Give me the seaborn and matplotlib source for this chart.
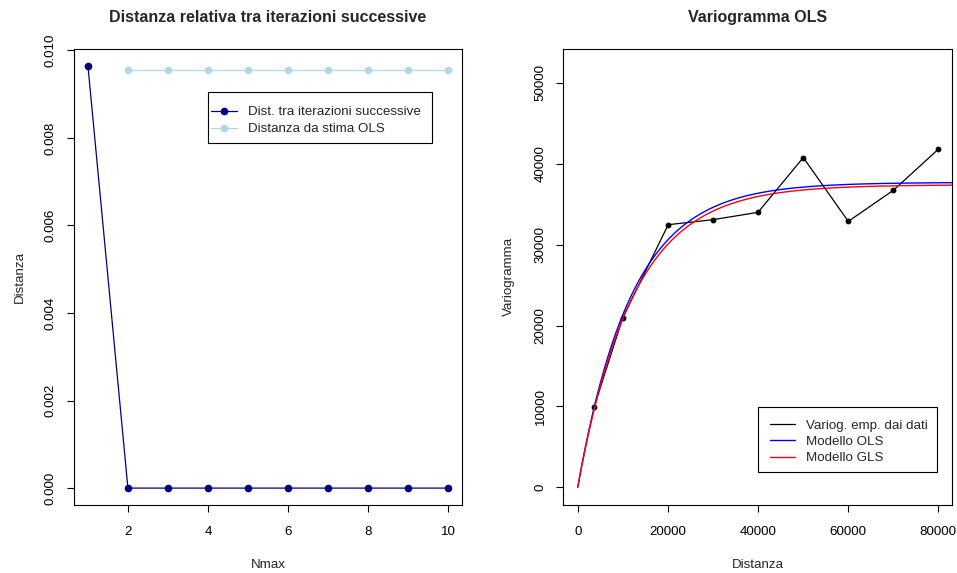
import numpy as np
import pandas as pd
import matplotlib
matplotlib.use("Agg")
import matplotlib.pyplot as plt
from matplotlib.lines import Line2D
from matplotlib.patches import Rectangle
import seaborn as sns

# --- convergence of the iterative GLS procedure ---
nmax = [1, 2, 3, 4, 5, 6, 7, 8, 9, 10]
dist_successive = [0.00965, 0.0, 0.0, 0.0, 0.0, 0.0, 0.0, 0.0, 0.0, 0.0]
nmax_ols = [2, 3, 4, 5, 6, 7, 8, 9, 10]
dist_ols = [0.00954, 0.00954, 0.00954, 0.00954, 0.00954,
            0.00954, 0.00954, 0.00954, 0.00954]

# --- empirical variogram of the residuals ---
lag_dist = [3620, 10000, 20100, 30050, 40050, 50100, 60100, 70100, 80100]
gamma_emp = [9900, 20960, 32470, 33090, 34000, 40770, 32880, 36720, 41800]

# fitted exponential models: (sill, range)
ols_model = (37700, 12000)
gls_model = (37400, 12300)

sns.set_style("ticks")
plt.rcParams["font.family"] = ["Liberation Sans", "DejaVu Sans"]
plt.rcParams["axes.linewidth"] = 0.8

FS = 9.6
TITLE_FS = 11.5
W, H = 957, 573


def exp_variogram(h, model):
    sill, rng = model
    return sill * (1.0 - np.exp(-np.asarray(h) / rng))


def px_box(x0, y0, x1, y1):
    """Figure-fraction rectangle from pixel corners (top-left origin)."""
    return [x0 / W, 1 - y1 / H, (x1 - x0) / W, (y1 - y0) / H]


fig = plt.figure(figsize=(W / 100, H / 100), dpi=100)
ax1 = fig.add_axes(px_box(73.5, 48.5, 462.4, 505))
ax2 = fig.add_axes(px_box(563.3, 48.5, 952.3, 505))

# ---------------- left panel ----------------
df_it = pd.DataFrame({"Nmax": nmax, "Distanza": dist_successive})
df_ols = pd.DataFrame({"Nmax": nmax_ols, "Distanza": dist_ols})

sns.lineplot(data=df_it, x="Nmax", y="Distanza", ax=ax1, color="#000080",
             marker="o", markersize=5.5, markeredgewidth=0, linewidth=0.9,
             estimator=None, sort=False, label="Dist. tra iterazioni successive")
sns.lineplot(data=df_ols, x="Nmax", y="Distanza", ax=ax1, color="#ADD8E6",
             marker="o", markersize=5.5, markeredgewidth=0, linewidth=0.9,
             estimator=None, sort=False, label="Distanza da stima OLS")

ax1.set_xlim(0.64, 10.36)
ax1.set_ylim(-0.000386, 0.01004)
ax1.set_xticks([2, 4, 6, 8, 10])
ax1.set_yticks([0, 0.002, 0.004, 0.006, 0.008, 0.010])
ax1.set_yticklabels(["0.000", "0.002", "0.004", "0.006", "0.008", "0.010"],
                    rotation=90, va="center")
ax1.set_title("Distanza relativa tra iterazioni successive", fontsize=TITLE_FS,
              fontweight="bold", pad=19)
ax1.set_xlabel("Nmax", fontsize=FS, labelpad=15.5)
ax1.set_ylabel("Distanza", fontsize=FS, labelpad=14)

ax1.legend(loc="upper left", bbox_to_anchor=(200.5 / W, 1 - 95.3 / H),
           bbox_transform=fig.transFigure, fontsize=FS, frameon=False,
           borderaxespad=0, handlelength=1.95, handletextpad=0.8,
           labelspacing=0.35, borderpad=0.8)
# legend box outline
fig.patches.append(Rectangle(px_box(207.7, 92.3, 432.3, 143.3)[:2],
                             *px_box(207.7, 92.3, 432.3, 143.3)[2:],
                             transform=fig.transFigure, fill=False,
                             edgecolor="black", linewidth=0.8, zorder=5))

# ---------------- right panel ----------------
h = np.linspace(0, 84000, 500)
df_emp = pd.DataFrame({"Distanza": lag_dist, "Variogramma": gamma_emp})
df_mod = pd.DataFrame({"Distanza": np.concatenate([h, h]),
                       "Variogramma": np.concatenate([exp_variogram(h, ols_model),
                                                      exp_variogram(h, gls_model)]),
                       "Modello": ["Modello OLS"] * len(h) + ["Modello GLS"] * len(h)})

model_colors = {"Modello OLS": "#0000FF", "Modello GLS": "#FF0000"}
sns.lineplot(data=df_emp, x="Distanza", y="Variogramma", ax=ax2, color="black",
             marker="o", markersize=4.2, markeredgewidth=0, linewidth=0.9,
             estimator=None, sort=False, legend=False)
sns.lineplot(data=df_mod, x="Distanza", y="Variogramma", hue="Modello",
             palette=model_colors, ax=ax2, linewidth=1.0,
             estimator=None, sort=False, legend=False)

ax2.set_xlim(-3200, 83200)
ax2.set_ylim(-2180, 54250)
ax2.set_xticks([0, 20000, 40000, 60000, 80000])
ax2.set_yticks([0, 10000, 20000, 30000, 40000, 50000])
ax2.set_yticklabels(["0", "10000", "20000", "30000", "40000", "50000"],
                    rotation=90, va="center")
ax2.set_title("Variogramma OLS", fontsize=TITLE_FS, fontweight="bold", pad=19)
ax2.set_xlabel("Distanza", fontsize=FS, labelpad=15.5)
ax2.set_ylabel("Variogramma", fontsize=FS, labelpad=14)

leg_handles = [Line2D([], [], color="black", linewidth=0.9),
               Line2D([], [], color=model_colors["Modello OLS"], linewidth=1.0),
               Line2D([], [], color=model_colors["Modello GLS"], linewidth=1.0)]
leg_labels = ["Variog. emp. dai dati", "Modello OLS", "Modello GLS"]
ax2.legend(leg_handles, leg_labels, loc="upper left",
           bbox_to_anchor=(759.5 / W, 1 - 409.3 / H),
           bbox_transform=fig.transFigure, fontsize=FS, frameon=False,
           borderaxespad=0, handlelength=1.88, handletextpad=0.88,
           labelspacing=0.3, borderpad=0.75)
fig.patches.append(Rectangle(px_box(758.3, 407.3, 937, 472.3)[:2],
                             *px_box(758.3, 407.3, 937, 472.3)[2:],
                             transform=fig.transFigure, fill=False,
                             edgecolor="black", linewidth=0.8, zorder=5))

for ax in (ax1, ax2):
    ax.tick_params(direction="out", length=5, width=0.8, labelsize=FS,
                   colors="black")
    ax.tick_params(axis="x", pad=10)
    ax.tick_params(axis="y", pad=7)
    for sp in ax.spines.values():
        sp.set_visible(True)
        sp.set_color("black")
        sp.set_linewidth(0.8)

fig.savefig("out.png", dpi=100, facecolor="white")
